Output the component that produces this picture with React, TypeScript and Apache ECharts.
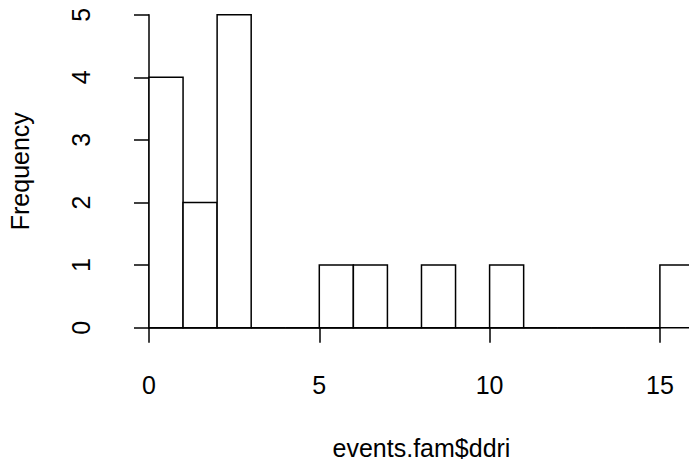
import React, { useEffect, useRef } from "react";
import * as echarts from "echarts";

// Histogram of events.fam$ddri (bins of width 1)
const binStarts = [0, 1, 2, 3, 4, 5, 6, 7, 8, 9, 10, 11, 12, 13, 14, 15];
const binWidth = 1;
const counts = [4, 2, 5, 0, 0, 1, 1, 0, 1, 0, 1, 0, 0, 0, 0, 1];
const xTickValues = [0, 5, 10, 15];
const yTickValues = [0, 1, 2, 3, 4, 5];
const xLabel = "events.fam$ddri";
const yLabel = "Frequency";

const FONT = "'Liberation Sans', Arial, Helvetica, sans-serif";

export default function App() {
  const ref = useRef<HTMLDivElement>(null);

  useEffect(() => {
    if (!ref.current) return;
    const chart = echarts.init(ref.current, null, { renderer: "svg" });

    const data = counts.map((c, i) => [binStarts[i], binStarts[i] + binWidth, c]);
    const xAxisMin = xTickValues[0];
    const xAxisMax = xTickValues[xTickValues.length - 1];
    const yAxisMin = yTickValues[0];
    const yAxisMax = yTickValues[yTickValues.length - 1];
    // R pads the plot region by 4% of the data range
    const xRangeMin = binStarts[0];
    const xRangeMax = binStarts[binStarts.length - 1] + binWidth;
    const xPad = (xRangeMax - xRangeMin) * 0.04;
    const yPad = (yAxisMax - yAxisMin) * 0.04;

    const pxPerX = 34.06;
    const pxPerY = 62.6;
    const x0px = 149;
    const y0px = 327.7;

    const plotLeft = x0px - xPad * pxPerX;
    const plotTop = y0px - (yAxisMax + yPad) * pxPerY;
    const plotW = (xRangeMax - xRangeMin + 2 * xPad) * pxPerX;
    const plotH = (yAxisMax - yAxisMin + 2 * yPad) * pxPerY;

    const lineColor = "#000";
    const lw = 1.5;

    chart.setOption({
      animation: false,
      backgroundColor: "#fff",
      grid: [
        {
          left: plotLeft,
          top: plotTop,
          width: plotW,
          height: plotH,
          outerBoundsMode: "none",
        },
        {
          left: x0px,
          top: y0px - yAxisMax * pxPerY,
          width: (xAxisMax - xAxisMin) * pxPerX,
          height: yAxisMax * pxPerY,
          outerBoundsMode: "none",
        },
      ],
      xAxis: [
        {
          gridIndex: 0,
          type: "value",
          min: xRangeMin - xPad,
          max: xRangeMax + xPad,
          axisLine: { show: false },
          axisTick: { show: false },
          axisLabel: { show: false },
          splitLine: { show: false },
          name: xLabel,
          nameLocation: "middle",
          nameGap: 95,
          nameTextStyle: { fontFamily: FONT, fontSize: 25, color: "#000", lineHeight: 25 },
        },
        {
          gridIndex: 1,
          type: "value",
          min: xAxisMin,
          max: xAxisMax,
          interval: 5,
          offset: yPad * pxPerY,
          axisLine: { show: true, lineStyle: { color: lineColor, width: lw } },
          axisTick: { show: true, length: 15, lineStyle: { color: lineColor, width: lw } },
          axisLabel: {
            show: true,
            margin: 32,
            fontFamily: FONT,
            fontSize: 25,
            lineHeight: 25,
            color: "#000",
          },
          splitLine: { show: false },
        },
      ],
      yAxis: [
        {
          gridIndex: 0,
          type: "value",
          min: yAxisMin - yPad,
          max: yAxisMax + yPad,
          axisLine: { show: false },
          axisTick: { show: false },
          axisLabel: { show: false },
          splitLine: { show: false },
          name: yLabel,
          nameLocation: "middle",
          nameGap: 95,
          nameRotate: 90,
          nameTextStyle: { fontFamily: FONT, fontSize: 25, color: "#000", lineHeight: 25 },
        },
        {
          gridIndex: 1,
          type: "value",
          min: yAxisMin,
          max: yAxisMax,
          interval: 1,
          offset: xPad * pxPerX,
          axisLine: { show: true, lineStyle: { color: lineColor, width: lw } },
          axisTick: { show: true, length: 15, lineStyle: { color: lineColor, width: lw } },
          axisLabel: {
            show: true,
            rotate: 90,
            margin: 34,
            fontFamily: FONT,
            fontSize: 25,
            lineHeight: 25,
            color: "#000",
          },
          splitLine: { show: false },
        },
      ],
      series: [
        {
          type: "custom",
          xAxisIndex: 0,
          yAxisIndex: 0,
          clip: false,
          encode: { x: [0, 1], y: 2 },
          data,
          renderItem: (params: any, api: any) => {
            const a = api.coord([api.value(0), api.value(2)]);
            const b = api.coord([api.value(1), 0]);
            return {
              type: "rect",
              shape: { x: a[0], y: a[1], width: b[0] - a[0], height: b[1] - a[1] },
              style: { fill: "#fff", stroke: lineColor, lineWidth: lw },
            };
          },
        },
      ],
    });

    return () => chart.dispose();
  }, []);

  return (
    <div
      ref={ref}
      style={{ position: "absolute", left: 0, top: 0, width: 689, height: 466 }}
    />
  );
}
